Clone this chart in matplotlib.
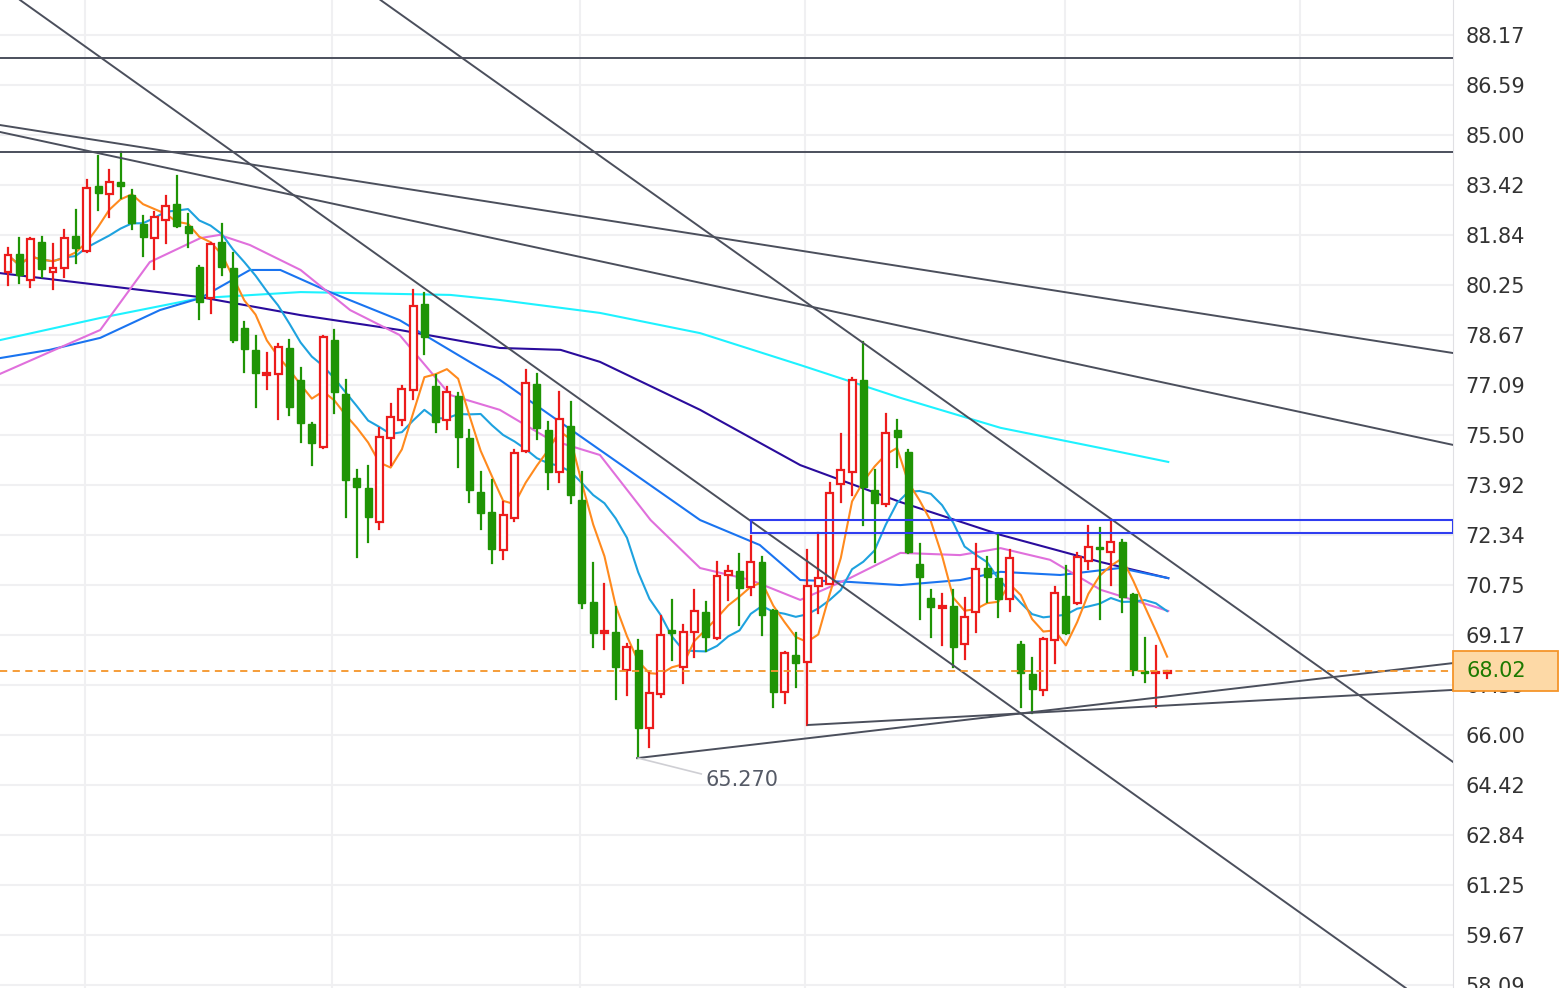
import numpy as np
import pandas as pd
import matplotlib
matplotlib.use("Agg")
import matplotlib.pyplot as plt
from matplotlib.patches import Rectangle

# daily OHLC, oldest first
opens = [80.66, 81.23, 80.41, 81.61, 80.66, 80.79, 81.80, 81.33, 83.39, 83.14,
         83.52, 83.10, 82.19, 81.74, 82.31, 82.82, 82.12, 80.82, 79.84, 81.61,
         80.79, 78.89, 78.20, 77.40, 77.44, 78.26, 77.25, 75.85, 75.12, 78.51,
         76.80, 74.14, 73.83, 72.75, 75.41, 75.98, 76.93, 79.65, 77.06, 75.98,
         76.74, 75.41, 73.70, 73.06, 71.86, 72.87, 75.00, 77.12, 75.66, 74.33,
         75.79, 73.45, 70.22, 69.23, 69.26, 68.06, 68.70, 66.22, 67.30, 69.33,
         68.16, 69.26, 69.90, 69.07, 71.07, 71.20, 70.69, 71.48, 69.96, 67.36,
         68.54, 68.32, 70.72, 70.79, 73.95, 74.33, 77.25, 73.76, 73.32, 75.66,
         74.97, 71.42, 70.34, 70.02, 70.09, 68.88, 69.90, 71.29, 70.97, 70.31,
         68.88, 67.93, 67.43, 69.01, 70.41, 70.18, 71.51, 71.96, 71.80, 72.11,
         70.47, 68.03, 67.97, 67.97]
highs = [81.42, 81.74, 81.74, 81.77, 81.55, 82.00, 82.63, 83.58, 84.34, 83.90,
         84.47, 83.26, 82.44, 82.57, 83.07, 83.71, 82.50, 80.86, 81.58, 82.19,
         81.27, 79.08, 78.64, 78.10, 78.39, 78.51, 77.63, 75.88, 78.64, 78.83,
         77.25, 74.39, 74.52, 75.73, 76.49, 77.06, 80.10, 80.00, 77.40, 77.02,
         76.83, 75.66, 74.33, 74.08, 73.38, 75.03, 77.56, 77.44, 75.92, 76.87,
         76.55, 74.33, 71.45, 70.79, 70.06, 68.88, 69.01, 67.97, 69.77, 70.28,
         69.49, 70.60, 70.22, 71.48, 71.36, 71.74, 72.30, 71.64, 69.96, 68.63,
         69.23, 71.86, 72.40, 73.98, 75.54, 77.31, 78.45, 74.39, 76.17, 75.98,
         75.03, 72.05, 70.60, 70.47, 70.60, 70.34, 72.05, 71.64, 72.34, 71.86,
         68.95, 68.44, 69.07, 70.69, 71.36, 71.77, 72.62, 72.56, 72.81, 72.18,
         70.47, 69.07, 68.82, 68.00]
lows = [80.25, 80.31, 80.19, 80.51, 80.13, 80.51, 80.95, 81.30, 82.63, 82.41,
        83.01, 82.03, 81.17, 80.76, 81.58, 82.09, 81.46, 79.18, 79.37, 80.57,
        78.45, 77.50, 76.39, 76.96, 76.01, 76.14, 75.28, 74.55, 75.10, 76.20,
        72.91, 71.64, 72.11, 72.53, 74.55, 75.82, 76.64, 78.07, 75.60, 75.69,
        74.49, 73.38, 72.53, 71.45, 71.58, 72.78, 74.97, 75.38, 73.79, 74.02,
        73.35, 70.02, 68.79, 68.73, 67.14, 67.27, 65.27, 65.62, 67.21, 68.38,
        67.65, 68.47, 68.66, 69.04, 70.28, 69.49, 70.44, 69.17, 66.89, 67.02,
        67.52, 66.32, 69.87, 70.79, 73.38, 73.60, 72.65, 71.48, 73.26, 74.49,
        71.77, 69.68, 69.11, 68.85, 68.16, 68.41, 69.26, 70.22, 69.74, 69.93,
        66.89, 66.70, 67.27, 68.28, 69.20, 70.15, 71.26, 69.68, 70.75, 69.90,
        67.90, 67.68, 66.89, 67.81]
closes = [81.20, 80.57, 81.71, 80.76, 80.79, 81.74, 81.42, 83.33, 83.17, 83.52,
          83.39, 82.22, 81.77, 82.41, 82.76, 82.12, 81.90, 79.72, 81.55, 80.82,
          78.51, 78.23, 77.47, 77.47, 78.29, 76.39, 75.88, 75.25, 78.61, 76.87,
          74.08, 73.86, 72.91, 75.44, 76.07, 76.96, 79.59, 78.61, 75.92, 76.87,
          75.44, 73.76, 73.03, 71.89, 72.97, 74.93, 77.15, 75.73, 74.33, 76.01,
          73.60, 70.18, 69.23, 69.30, 68.16, 68.79, 66.22, 67.33, 69.17, 69.23,
          69.26, 69.93, 69.10, 71.04, 71.20, 70.66, 71.48, 69.80, 67.36, 68.60,
          68.28, 70.72, 70.97, 73.67, 74.39, 77.25, 73.86, 73.35, 75.57, 75.44,
          71.80, 71.01, 70.06, 70.09, 68.79, 69.74, 71.26, 71.01, 70.31, 71.61,
          67.97, 67.46, 69.04, 70.50, 69.23, 71.64, 71.96, 71.89, 72.11, 70.37,
          68.06, 67.97, 68.00, 68.02]

# longer averages (bar index, price)
ma20_x = [-0.7, 3.7, 8.2, 12.6, 17.1, 18.8, 21.5, 26.0, 30.4, 34.8, 39.3, 43.7, 48.2,
          52.6, 57.1, 61.5, 66.0, 70.4, 74.8, 79.3, 84.6, 88.2, 92.6, 97.1, 103.1]
ma20_y = [77.44, 78.13, 78.83, 80.98, 81.74, 81.84, 81.52, 80.73, 79.46, 78.67, 76.77,
          76.30, 75.35, 74.87, 72.81, 71.29, 70.91, 70.28, 70.97, 71.77, 71.70, 71.92,
          71.55, 70.60, 69.93]
ma30_x = [-0.7, 3.7, 8.2, 13.5, 17.1, 21.5, 24.2, 28.6, 34.8, 43.7, 52.6, 61.5, 66.8,
          70.4, 74.8, 79.3, 84.6, 88.2, 93.5, 98.8, 103.1]
ma30_y = [77.94, 78.20, 78.58, 79.46, 79.84, 80.73, 80.73, 80.03, 79.14, 77.25, 75.03,
          72.81, 72.02, 70.91, 70.85, 70.75, 70.91, 71.17, 71.07, 71.29, 70.97]
ma60_x = [-0.7, 8.2, 17.1, 26.0, 34.8, 43.7, 49.1, 52.6, 61.5, 70.4, 79.3, 88.2, 97.1, 103.1]
ma60_y = [80.63, 80.25, 79.87, 79.30, 78.83, 78.26, 78.20, 77.82, 76.30, 74.55, 73.38,
          72.34, 71.48, 70.97]
ma120_x = [-0.7, 8.2, 17.1, 26.0, 34.8, 39.3, 43.7, 52.6, 61.5, 70.4, 79.3, 88.2, 97.1, 103.1]
ma120_y = [78.51, 79.21, 79.84, 80.03, 79.97, 79.94, 79.78, 79.37, 78.73, 77.72, 76.68,
           75.73, 75.09, 74.65]

yticks = [88.17, 86.59, 85.00, 83.42, 81.84, 80.25, 78.67, 77.09, 75.50, 73.92,
          72.34, 70.75, 69.17, 67.59, 66.00, 64.42, 62.84, 61.25, 59.67, 58.09]
xgrid = [6.8, 28.8, 50.8, 70.8, 93.9, 114.8]
last_price = 68.02
low_mark = (56, 65.27)

# hand-drawn trend lines: ((x0, y0), (x1, y1)) in bar index / price
trend_lines = [
    ((-0.71, 85.32), (128.4, 78.10)),
    ((-0.71, 85.10), (128.4, 75.19)),
    ((33.1, 89.28), (128.4, 65.15)),
    ((1.07, 89.28), (124.2, 57.99)),
    ((55.9, 65.27), (128.4, 68.28)),
    ((71.1, 66.32), (128.4, 67.43)),
]
h_lines = [87.44, 84.47]
zone = (66.0, 72.40, 72.81)

RED = "#ec1c1c"
GREEN = "#1f9405"
LINE = "#4b4f5c"

fig = plt.figure(figsize=(15.6, 9.88), dpi=100)
ax = fig.add_axes([0, 0, 1453 / 1560, 1])
xmin, xmax = -0.71, 128.4
ax.set_xlim(xmin, xmax)
ax.set_ylim(57.99, 89.28)

for t in yticks:
    ax.axhline(t, color="#f0f0f2", lw=1.5, zorder=0)
for g in xgrid:
    ax.axvline(g, color="#f0f0f2", lw=1.5, zorder=0)

idx = np.arange(len(closes))
cl = pd.Series(closes)
ma5 = cl.rolling(5, min_periods=1).mean()
ma10 = cl.rolling(10, min_periods=1).mean()

ax.plot(ma120_x, ma120_y, color="#1ef2ff", lw=1.5, zorder=2)
ax.plot(ma60_x, ma60_y, color="#2a0c9c", lw=1.5, zorder=2)
ax.plot(ma30_x, ma30_y, color="#1a74f0", lw=1.5, zorder=2)
ax.plot(ma20_x, ma20_y, color="#e070dc", lw=1.5, zorder=2)
ax.plot(idx, ma10, color="#1ea2df", lw=1.5, zorder=2)
ax.plot(idx, ma5, color="#ff8a1e", lw=1.5, zorder=2)

w = 0.62
for i, (o, h, l, c) in enumerate(zip(opens, highs, lows, closes)):
    if c >= o:
        ax.plot([i, i], [l, o], color=RED, lw=1.6, zorder=3)
        ax.plot([i, i], [c, h], color=RED, lw=1.6, zorder=3)
        ax.add_patch(Rectangle((i - w / 2, o), w, max(c - o, 0.04), facecolor="white",
                               edgecolor=RED, lw=1.6, zorder=3))
    else:
        ax.plot([i, i], [l, h], color=GREEN, lw=1.6, zorder=3)
        ax.add_patch(Rectangle((i - w / 2, c), w, max(o - c, 0.04), facecolor=GREEN,
                               edgecolor=GREEN, lw=1.0, zorder=3))

for (x0, y0), (x1, y1) in trend_lines:
    ax.plot([x0, x1], [y0, y1], color=LINE, lw=1.4, zorder=4)
for hy in h_lines:
    ax.axhline(hy, color=LINE, lw=1.4, zorder=4)
ax.add_patch(Rectangle((zone[0], zone[1]), xmax - zone[0], zone[2] - zone[1],
                       facecolor="none", edgecolor="#2f3df0", lw=1.5, zorder=4))

ax.axhline(last_price, color="#f5952a", lw=1.3, ls=(0, (4, 3)), zorder=5)

ax.plot([low_mark[0], low_mark[0] + 5.6], [low_mark[1], low_mark[1] - 0.5],
        color="#cfcfd4", lw=1.2, zorder=4)
ax.text(low_mark[0] + 6, low_mark[1] - 0.7, f"{low_mark[1]:.3f}", fontsize=15,
        color="#555a66", va="center", ha="left")

ax.set_xticks([])
ax.yaxis.tick_right()
ax.set_yticks(yticks)
ax.set_yticklabels([f"{t:.2f}" for t in yticks], fontsize=15, color="#333333")
ax.tick_params(axis="y", length=0, pad=9)
for s in ["top", "bottom", "left"]:
    ax.spines[s].set_visible(False)
ax.spines["right"].set_color("#e0e0e4")

# current price tag in the right margin, covering the tick label beneath it
yfrac = (last_price - 57.99) / (89.28 - 57.99)
tag_h = 40 / 988
fig.patches.append(Rectangle((1453 / 1560, yfrac - tag_h / 2), 107 / 1560 - 0.001, tag_h,
                             transform=fig.transFigure, facecolor="#fdd9a6",
                             edgecolor="#f5952a", lw=1.3, zorder=10))
fig.text(1466 / 1560, yfrac, f"{last_price:.2f}", fontsize=15, color="#1d7a00",
         va="center", ha="left", zorder=11)

fig.savefig("out.png", dpi=100)
